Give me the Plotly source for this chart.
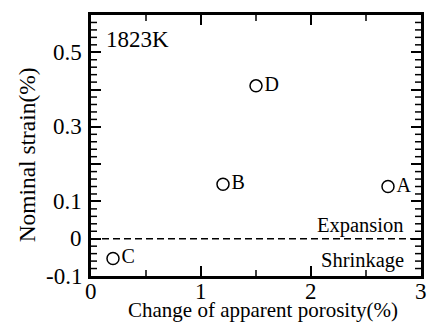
import plotly.graph_objects as go

# Sample measurements at 1823K
labels = ["A", "B", "C", "D"]
porosity_change = [2.7, 1.2, 0.2, 1.5]
nominal_strain = [0.14, 0.146, -0.053, 0.41]

x_tickvals = [0, 1, 2, 3]
x_ticktext = ["0", "1", "2", "3"]
y_tickvals = [-0.1, 0, 0.1, 0.2, 0.3, 0.4, 0.5, 0.6]
y_ticktext = ["-0.1", "0", "0.1", "", "0.3", "", "0.5", ""]

# short intermediate ticks
x_minor = [0.5, 1.5, 2.5]
y_minor = [v for v in (round(-0.1 + 0.02 * i, 2) for i in range(36))
           if all(abs(v - m) > 1e-9 for m in y_tickvals)]

FONT = "Liberation Serif, Times New Roman, serif"
X_RANGE = [0, 3]
Y_RANGE = [-0.1, 0.6]

fig = go.Figure()

fig.add_trace(go.Scatter(
    x=porosity_change, y=nominal_strain, mode="markers+text",
    text=labels, textposition="middle right",
    marker=dict(symbol="circle-open", size=12, color="black", line=dict(width=1.5)),
    showlegend=False,
))

# zero-strain reference line
fig.add_shape(type="line", xref="x", yref="y", x0=X_RANGE[0], x1=X_RANGE[1], y0=0, y1=0,
              line=dict(color="black", width=1.5, dash="7px,4px"))

fig.add_annotation(x=0.12, y=0.535, xref="x", yref="y", text="1823K",
                   showarrow=False, xanchor="left", yanchor="middle", font=dict(size=23))
fig.add_annotation(x=2.86, y=0.036, xref="x", yref="y", text="Expansion",
                   showarrow=False, xanchor="right", yanchor="middle", font=dict(size=20.5))
fig.add_annotation(x=2.86, y=-0.058, xref="x", yref="y", text="Shrinkage",
                   showarrow=False, xanchor="right", yanchor="middle", font=dict(size=20.5))

# tick labels
for v, t in zip(x_tickvals, x_ticktext):
    fig.add_annotation(x=v, y=-0.06, xref="x", yref="paper", text=t,
                       showarrow=False, xanchor="center", yanchor="middle", font=dict(size=23))
for v, t in zip(y_tickvals, y_ticktext):
    if t:
        fig.add_annotation(x=-0.021, y=v, xref="paper", yref="y", text=t,
                           showarrow=False, xanchor="right", yanchor="middle", font=dict(size=23))

# axis titles
fig.add_annotation(x=0.5225, y=-0.13, xref="paper", yref="paper",
                   text="Change of apparent porosity(%)", showarrow=False,
                   xanchor="center", yanchor="middle", font=dict(size=21))
fig.add_annotation(x=-0.195, y=0.465, xref="paper", yref="paper",
                   text="Nominal strain(%)", showarrow=False, textangle=-90,
                   xanchor="center", yanchor="middle", font=dict(size=23.4))


def x_ticks(values, length, width):
    # inward ticks on bottom and top edges
    for v in values:
        for anchor, sign in ((Y_RANGE[0], 1), (Y_RANGE[1], -1)):
            fig.add_shape(type="line", xref="x", yref="y", x0=v, x1=v,
                          ysizemode="pixel", yanchor=anchor, y0=0, y1=sign * length,
                          line=dict(color="black", width=width))


def y_ticks(values, length, width):
    # inward ticks on left and right edges
    for v in values:
        for anchor, sign in ((X_RANGE[0], 1), (X_RANGE[1], -1)):
            fig.add_shape(type="line", xref="x", yref="y", y0=v, y1=v,
                          xsizemode="pixel", xanchor=anchor, x0=0, x1=sign * length,
                          line=dict(color="black", width=width))


x_ticks(x_minor, 6, 1.5)
y_ticks(y_minor, 6, 1.5)

fig.update_xaxes(range=X_RANGE, tickmode="array", tickvals=x_tickvals, showticklabels=False,
                 ticks="inside", ticklen=10, tickwidth=2, tickcolor="black",
                 showline=True, linecolor="black", linewidth=3, mirror="ticks", showgrid=False)
fig.update_yaxes(range=Y_RANGE, tickmode="array", tickvals=y_tickvals, showticklabels=False,
                 ticks="inside", ticklen=10, tickwidth=2, tickcolor="black",
                 showline=True, linecolor="black", linewidth=3, mirror="ticks", showgrid=False)

fig.update_layout(
    width=433, height=327,
    margin=dict(l=91, r=9, t=15, b=51),
    font=dict(family=FONT, size=20, color="black"),
    plot_bgcolor="white", paper_bgcolor="white",
)

fig.write_html("out.html")
